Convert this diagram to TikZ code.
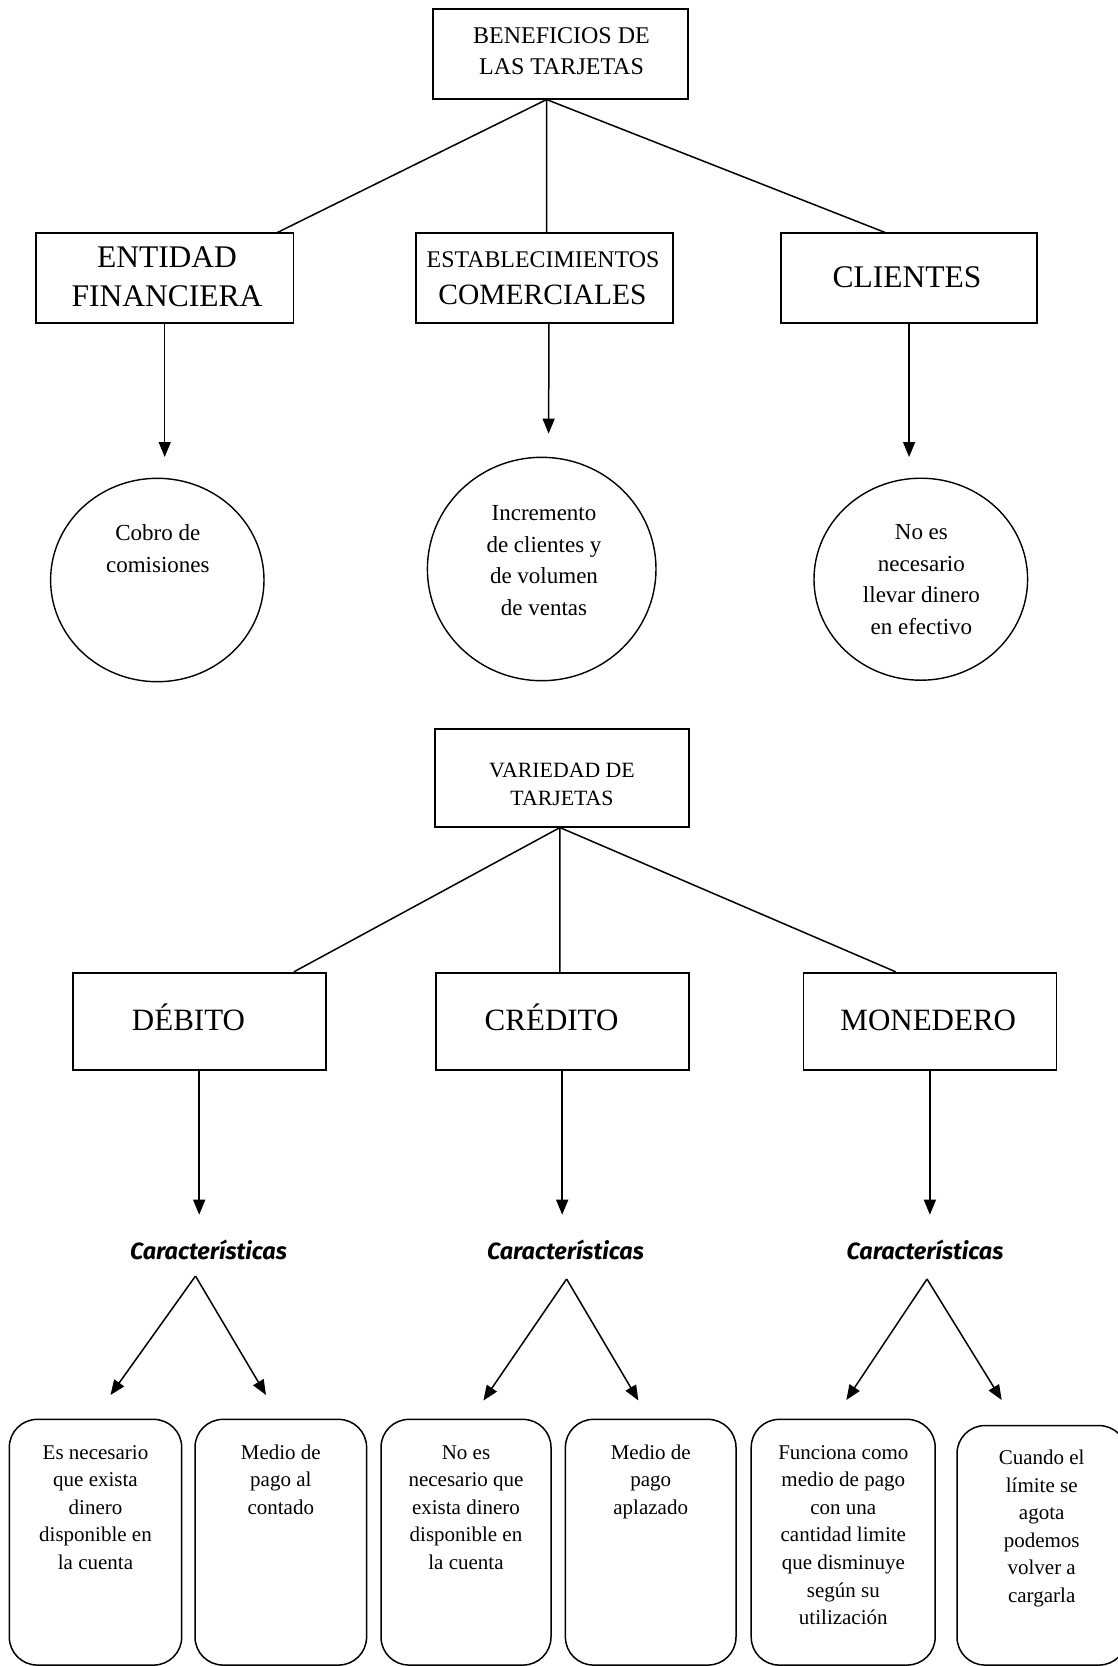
\documentclass[tikz,border=0pt]{standalone}
\usepackage{fontspec}
\setmainfont{Liberation Serif}
\newfontfamily\carfont{Fira Sans}
\usetikzlibrary{arrows.meta,calc,shapes.geometric}

% centred block of lines whose baseline is the first line
\newcommand\bloque[2]{\parbox[t]{#1}{\centering #2}}

\begin{document}
\begin{tikzpicture}[x=1pt,y=-1pt,
  caja/.style={draw, line width=1.7pt, rectangle, inner sep=0pt},
  ovalo/.style={draw, line width=1.4pt, ellipse, inner sep=0pt},
  tarjeta/.style={draw, line width=1.5pt, rounded corners=28pt, rectangle, inner sep=0pt},
  texto/.style={inner sep=0pt, anchor=base},
  rama/.style={line width=1.5pt},
  flecha/.style={line width=1.5pt, -{Triangle[length=15pt,width=12pt]}},
  carac/.style={inner sep=0pt, font=\carfont\bfseries\itshape\fontsize{23.4}{28}\selectfont},
  chico/.style={font=\fontsize{21}{27.6}\selectfont},
  oval/.style={font=\fontsize{23}{31.5}\selectfont},
]
\fill[white] (0,0) rectangle (1118,1666);
\clip (0,0) rectangle (1118,1666);

% ---------- Beneficios de las tarjetas ----------
\node[caja, minimum width=255.3pt, minimum height=89.7pt] (ben) at (560.35,53.85) {};
\node[texto, font=\fontsize{24}{31}\selectfont] (benT) at (561.5,43.5)
  {\bloque{250pt}{BENEFICIOS DE\\LAS TARJETAS}};

\node[caja, minimum width=257.3pt, minimum height=89.4pt] (ent) at (164.7,278) {};
\node[texto, font=\fontsize{31.5}{38.3}\selectfont] (entT) at (167,267.7)
  {\bloque{250pt}{ENTIDAD\\FINANCIERA}};

\node[caja, minimum width=256.7pt, minimum height=89.4pt] (est) at (544.3,278) {};
\node[texto, font=\fontsize{23.9}{28}\selectfont] (estT1) at (543,267.5) {ESTABLECIMIENTOS};
\node[texto, font=\fontsize{29.5}{35}\selectfont] (estT2) at (542.5,304.7) {COMERCIALES};

\node[caja, minimum width=256pt, minimum height=89.4pt] (cli) at (909.1,278) {};
\node[texto, font=\fontsize{31.5}{38.3}\selectfont] (cliT) at (907,287) {CLIENTES};

\coordinate (benA) at ($(ben.south west)!0.4465!(ben.south east)$);
\draw[rama] (benA) -- ($(ent.north west)!0.9355!(ent.north east)$);
\draw[rama] (benA) -- ($(est.north west)!0.509!(est.north east)$);
\draw[rama] (benA) -- ($(cli.north west)!0.4066!(cli.north east)$);

\coordinate (entF) at (164.7,457);
\coordinate (estF) at (548.6,433.6);
\coordinate (cliF) at (909.1,457);
\draw[flecha] (ent.south) -- (entF);
\draw[flecha] ($(est.south west)!0.518!(est.south east)$) -- (estF);
\draw[flecha] (cli.south) -- (cliF);

\node[ovalo, minimum width=213.4pt, minimum height=203.4pt] (cobro) at (157.3,580) {};
\node[texto, oval] (cobroT) at (157.8,540.5)
  {\bloque{200pt}{Cobro de\\comisiones}};

\node[ovalo, minimum width=228.6pt, minimum height=223.4pt] (incr) at (541.7,569) {};
\node[texto, oval] (incrT) at (544,520.5)
  {\bloque{200pt}{Incremento\\de clientes y\\de volumen\\de ventas}};

\node[ovalo, minimum width=213.6pt, minimum height=202pt] (efec) at (920.8,579.2) {};
\node[texto, oval] (efecT) at (921.4,539.5)
  {\bloque{200pt}{No es\\necesario\\llevar dinero\\en efectivo}};

% ---------- Variedad de tarjetas ----------
\node[caja, minimum width=254pt, minimum height=97.4pt] (var) at (562,778) {};
\node[texto, font=\fontsize{21.8}{28.6}\selectfont] (varT) at (562,777)
  {\bloque{250pt}{VARIEDAD DE\\TARJETAS}};

\node[caja, minimum width=253pt, minimum height=97.3pt] (deb) at (199.2,1021.3) {};
\node[texto, font=\fontsize{31}{37}\selectfont] (debT) at (188.5,1030) {DÉBITO};
\node[caja, minimum width=253pt, minimum height=97.3pt] (cre) at (562.2,1021.3) {};
\node[texto, font=\fontsize{31}{37}\selectfont] (creT) at (551.6,1030) {CRÉDITO};
\node[caja, minimum width=253pt, minimum height=97.3pt] (mon) at (929.9,1021.3) {};
\node[texto, font=\fontsize{31}{37}\selectfont] (monT) at (928.3,1030) {MONEDERO};

\coordinate (varA) at ($(var.south west)!0.492!(var.south east)$);
\draw[rama] (varA) -- ($(deb.north west)!0.872!(deb.north east)$);
\draw[rama] (varA) -- ($(cre.north west)!0.491!(cre.north east)$);
\draw[rama] (varA) -- ($(mon.north west)!0.3656!(mon.north east)$);

\coordinate (debF) at (199.2,1214.7);
\coordinate (creF) at (562.2,1214.7);
\coordinate (monF) at (929.9,1214.7);
\draw[flecha] (deb.south) -- (debF);
\draw[flecha] (cre.south) -- (creF);
\draw[flecha] (mon.south) -- (monF);

\node[carac] (car1) at (208.5,1250) {Características};
\node[carac] (car2) at (565.4,1250) {Características};
\node[carac] (car3) at (925,1250) {Características};

\coordinate (v1) at (195.5,1276);
\coordinate (v1a) at (110.5,1395);
\coordinate (v1b) at (266,1395);
\coordinate (v2) at (566.6,1279);
\coordinate (v2a) at (483.4,1400.5);
\coordinate (v2b) at (638.4,1400.5);
\coordinate (v3) at (927,1279);
\coordinate (v3a) at (846.3,1400);
\coordinate (v3b) at (1001.7,1400);
\draw[flecha] (v1) -- (v1a);
\draw[flecha] (v1) -- (v1b);
\draw[flecha] (v2) -- (v2a);
\draw[flecha] (v2) -- (v2b);
\draw[flecha] (v3) -- (v3a);
\draw[flecha] (v3) -- (v3b);

% ---------- cajas de características ----------
\node[tarjeta, minimum width=172.4pt, minimum height=245.7pt] (b1) at (95.5,1542.2) {};
\node[tarjeta, minimum width=171.6pt, minimum height=245.7pt] (b2) at (280.8,1542.2) {};
\node[tarjeta, minimum width=170pt, minimum height=245.7pt] (b3) at (466,1542.2) {};
\node[tarjeta, minimum width=170.6pt, minimum height=245.7pt] (b4) at (650.7,1542.2) {};
\node[tarjeta, minimum width=184pt, minimum height=245.7pt] (b5) at (843.2,1542.2) {};
\node[tarjeta, minimum width=170pt, minimum height=239.5pt] (b6) at (1042,1545.3) {};

\node[texto, chico] (b1T) at (95.5,1459)
  {\bloque{165pt}{Es necesario\\que exista\\dinero\\disponible en\\la cuenta}};
\node[texto, chico] (b2T) at (280.8,1459)
  {\bloque{165pt}{Medio de\\pago al\\contado}};
\node[texto, chico] (b3T) at (466,1459)
  {\bloque{165pt}{No es\\necesario que\\exista dinero\\disponible en\\la cuenta}};
\node[texto, chico] (b4T) at (650.7,1459)
  {\bloque{165pt}{Medio de\\pago\\aplazado}};
\node[texto, chico] (b5T) at (843.3,1459)
  {\bloque{180pt}{Funciona como\\medio de pago\\con una\\cantidad limite\\que disminuye\\según su\\utilización}};
\node[texto, chico] (b6T) at (1041.7,1464.5)
  {\bloque{165pt}{Cuando el\\límite se\\agota\\podemos\\volver a\\cargarla}};
\end{tikzpicture}
\end{document}
